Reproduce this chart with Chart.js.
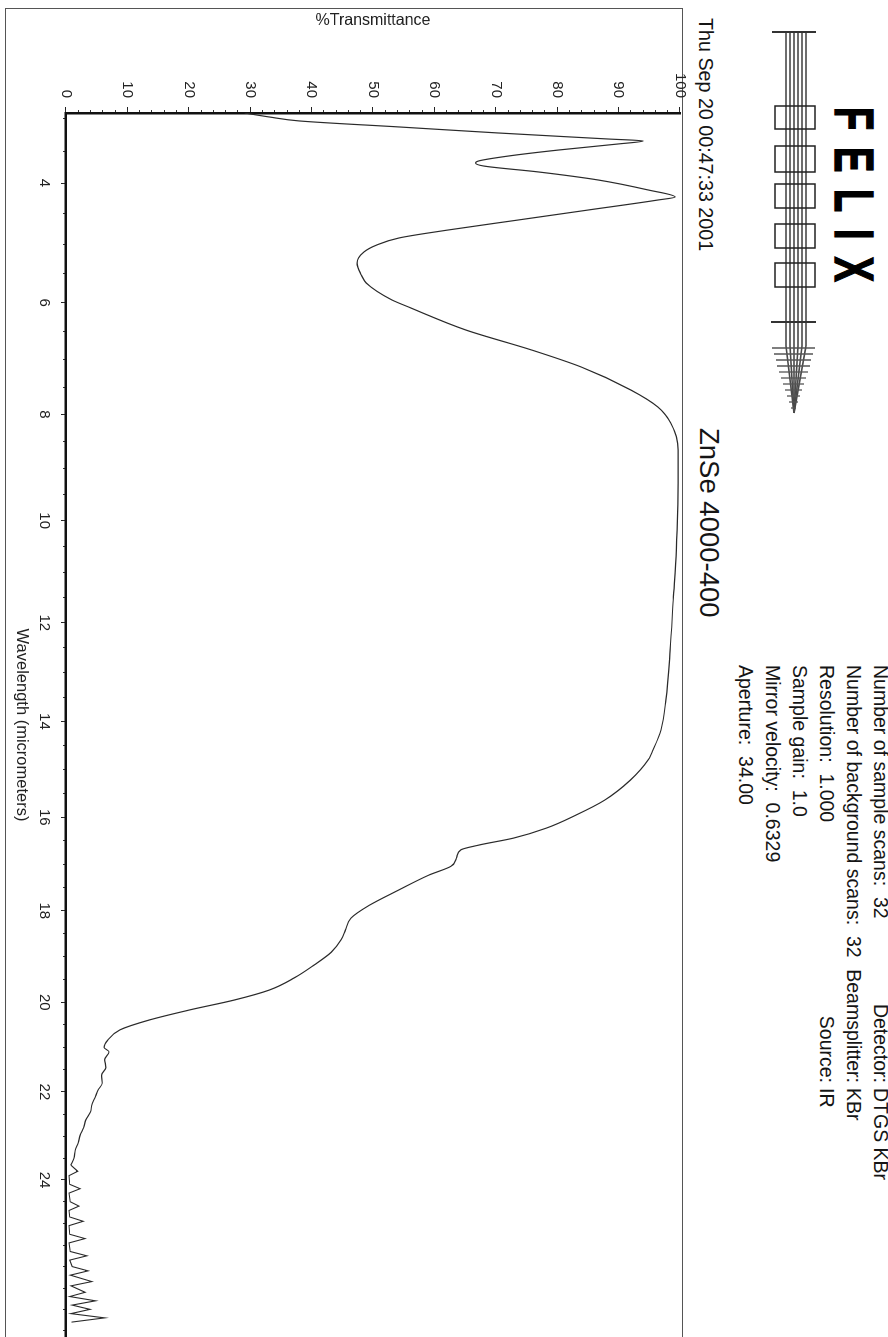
<!DOCTYPE html>
<html><head><meta charset="utf-8">
<script src="https://cdn.jsdelivr.net/npm/chart.js@4.4.0/dist/chart.umd.min.js"></script>
<style>
html,body{margin:0;padding:0;background:#fff;width:888px;height:1337px;overflow:hidden;}
#page{position:absolute;left:0;top:0;width:1337px;height:888px;transform-origin:0 0;transform:translate(888px,0) rotate(90deg);font-family:"Liberation Sans",Arial,sans-serif;color:#151515;background:#fff;}
#frame{position:absolute;left:8px;top:205px;width:1400px;height:676px;border-left:1px solid #555;border-top:1px solid #555;border-bottom:1px solid #555;}
#chartwrap{position:absolute;left:0;top:190px;width:1337px;height:698px;}
#logo{position:absolute;left:0;top:0;}
#felix{position:absolute;left:107px;top:6px;font-size:56px;line-height:1;font-weight:900;letter-spacing:24.6px;transform:scaleX(0.68);transform-origin:0 0;white-space:nowrap;color:#000;-webkit-text-stroke:1.4px #000;}
#date{position:absolute;left:18px;top:173px;font-size:19.7px;line-height:1;white-space:nowrap;}
#title{position:absolute;left:428px;top:165px;font-size:27.5px;line-height:1;white-space:nowrap;}
.info{position:absolute;font-size:19.5px;line-height:27px;white-space:pre;}
.lab{width:140px;text-align:right;left:943px;}
</style></head>
<body>
<div id="page">
  <div id="frame"></div>
  <svg id="logo" width="440" height="130" viewBox="0 0 440 130">
    <g stroke="#4a4a4a" stroke-width="1.6" fill="none">
      <line x1="32" y1="82" x2="346" y2="82"/><line x1="32" y1="86" x2="346" y2="86"/>
      <line x1="32" y1="90" x2="346" y2="90"/><line x1="32" y1="94" x2="346" y2="94"/>
      <line x1="32" y1="98" x2="346" y2="98"/><line x1="32" y1="102" x2="346" y2="102"/>
      <line x1="346" y1="82" x2="413" y2="94"/><line x1="346" y1="86" x2="413" y2="94"/>
      <line x1="346" y1="90" x2="413" y2="94"/><line x1="346" y1="98" x2="413" y2="94"/>
      <line x1="346" y1="102" x2="413" y2="94"/><line x1="346" y1="94" x2="413" y2="94"/>
    </g>
    <g stroke="#333" stroke-width="2">
      <line x1="32" y1="72" x2="32" y2="116"/><line x1="322" y1="72" x2="322" y2="117"/>
    </g>
    <g stroke="#555" stroke-width="1.3">
      <line x1="348" y1="73" x2="348" y2="116"/><line x1="354" y1="75" x2="354" y2="114"/>
      <line x1="360" y1="77" x2="360" y2="112"/><line x1="366" y1="78" x2="366" y2="111"/>
      <line x1="372" y1="80" x2="372" y2="109"/><line x1="378" y1="82" x2="378" y2="107"/>
      <line x1="384" y1="84" x2="384" y2="105"/><line x1="390" y1="86" x2="390" y2="103"/>
      <line x1="396" y1="88" x2="396" y2="101"/><line x1="402" y1="90" x2="402" y2="99"/>
      <line x1="408" y1="92" x2="408" y2="97"/>
    </g>
    <g stroke="#222" stroke-width="1.5" fill="none">
      <rect x="106" y="73" width="23" height="40"/><rect x="146" y="73" width="26" height="40"/>
      <rect x="184" y="73" width="24" height="40"/><rect x="224" y="73" width="24" height="40"/>
      <rect x="263" y="73" width="24" height="40"/>
    </g>
  </svg>
  <div id="felix">FELIX</div>
  <div id="date">Thu Sep 20 00:47:33 2001</div>
  <div id="title">ZnSe 4000-400</div>
  <div class="info" style="left:665px;top:-6px;">Number of sample scans:  32</div>
  <div class="info" style="left:665px;top:21px;">Number of background scans:  32</div>
  <div class="info" style="left:665px;top:48px;">Resolution:  1.000</div>
  <div class="info" style="left:665px;top:75px;">Sample gain:  1.0</div>
  <div class="info" style="left:665px;top:102px;">Mirror velocity:  0.6329</div>
  <div class="info" style="left:665px;top:129px;">Aperture:  34.00</div>
  <div class="info lab" style="top:-6px;">Detector:</div>
  <div class="info lab" style="top:21px;">Beamsplitter:</div>
  <div class="info lab" style="top:48px;">Source:</div>
  <div class="info" style="left:1088px;top:-6px;">DTGS KBr</div>
  <div class="info" style="left:1088px;top:21px;">KBr</div>
  <div class="info" style="left:1088px;top:48px;">IR</div>
  <div id="chartwrap"><canvas id="c" width="1337" height="698"></canvas></div>
</div>
<script>
// ---- data (wavelength in micrometers, %transmittance) ----
const wavelength = [2.912,2.972,3.032,3.123,3.216,3.308,3.338,3.385,3.479,3.572,3.650,3.682,3.729,3.823,3.952,4.111,4.225,4.274,4.436,4.600,4.765,4.899,5.016,5.134,5.320,5.523,5.661,5.954,6.076,6.478,6.832,7.137,7.554,7.864,8.159,8.660,9.282,10.567,11.549,12.548,13.562,14.177,14.590,14.80,15.22,15.64,15.95,16.23,16.44,16.59,16.69,16.86,17.04,17.23,17.55,17.88,18.16,18.42,18.63,18.90,19.18,19.46,19.73,19.95,20.17,20.39,20.61,20.84,21.00,21.10,21.28,21.45,21.62,21.80,21.96,22.10,22.30,22.45,22.64,22.80,22.98,23.15,23.32,23.50,23.66];
const transmittance = [29.1,33.1,38.0,54.2,70.5,88.3,94.0,89.9,80.2,72.1,67.2,66.7,68.0,76.9,86.7,94.8,99.2,96.4,85.1,73.7,62.3,54.2,50.6,48.5,47.4,48.1,48.9,53.1,55.8,65.1,75.8,83.9,92.0,96.4,98.5,99.7,99.7,99.4,98.9,98.4,97.7,96.9,95.6,94.8,91.9,87.7,83.1,78.2,72.9,67.2,64.3,63.6,62.7,59.1,54.2,49.4,46.4,45.5,44.8,43.2,40.4,37.2,33.1,27.4,20.1,13.6,8.8,6.8,6.2,7.0,6.3,6.5,5.8,5.9,5.2,4.8,4.2,4.0,3.2,2.9,2.3,2.0,1.5,1.3,0.8];
// noisy far-infrared tail (drawn with straight segments)
const tailWavelength = [23.66,23.8,23.9,24.1,24.2,24.3,24.5,24.6,24.7,24.85,24.95,25.05,25.25,25.35,25.45,25.65,25.75,25.85,26.0,26.1,26.2,26.35,26.45,26.6,26.7,26.8,26.9,27.0,27.1,27.2,27.3];
const tailTransmittance = [0.8,1.9,0.5,0.6,2.3,0.5,0.7,2.1,0.5,0.6,2.8,0.5,0.6,3.1,0.5,0.7,3.4,0.6,1.0,3.6,0.7,4.2,0.8,3.1,0.6,4.8,1.0,3.9,0.8,6.3,0.9];

// ---- axes ----
const waveTicks = [4,6,8,10,12,14,16,18,20,22,24];
const waveMinorTicks = [3,3.5,4,4.5,5,5.5,6,6.5,7,7.5,8,8.5,9,9.5,10,10.5,11,11.5,12,12.5,13,13.5,14,14.5,15,15.5,16,16.5,17,17.5,18,18.5,19,19.5,20,20.5,21,21.5,22,22.5,23,23.5,24,24.5,25,25.5,26,26.5,27,27.5];
const transTicks = [0,10,20,30,40,50,60,70,80,90,100];
const transMinorTicks = [0,2,4,6,8,10,12,14,16,18,20,22,24,26,28,30,32,34,36,38,40,42,44,46,48,50,52,54,56,58,60,62,64,66,68,70,72,74,76,78,80,82,84,86,88,90,92,94,96,98,100];
const waveMin = 2.912, waveMax = 27.65;

// the printout's wavelength axis is slightly non-linear: a power scale reproduces it
class PowScale extends Chart.LinearScale {
  configure() {
    super.configure();
    const p = this.options.exponent || 0.8;
    this._p = p;
    this._fs = Math.pow(this.min, p);
    this._fe = Math.pow(this.max, p);
  }
  getPixelForValue(v) {
    if (v === null || v === undefined || isNaN(v)) return NaN;
    return this.getPixelForDecimal((Math.pow(v, this._p) - this._fs) / (this._fe - this._fs));
  }
  getValueForPixel(px) {
    const d = this.getDecimalForPixel(px);
    return Math.pow(this._fs + d * (this._fe - this._fs), 1 / this._p);
  }
}
PowScale.id = 'pow';
PowScale.defaults = Chart.LinearScale.defaults;
Chart.register(PowScale);

const FONT = '"Liberation Sans", Arial, sans-serif';
const mainPts = wavelength.map((w, i) => ({x: w, y: transmittance[i]}));
const tailPts = tailWavelength.map((w, i) => ({x: w, y: tailTransmittance[i]}));

new Chart(document.getElementById('c'), {
  type: 'line',
  data: { datasets: [
    { data: mainPts, xAxisID: 'x', yAxisID: 'y', borderColor: '#2a2a2a', borderWidth: 1.2, pointRadius: 0, cubicInterpolationMode: 'monotone', fill: false },
    { data: tailPts, xAxisID: 'x', yAxisID: 'y', borderColor: '#2a2a2a', borderWidth: 1.1, pointRadius: 0, tension: 0, fill: false }
  ]},
  options: {
    responsive: false, animation: false, devicePixelRatio: 1,
    layout: { padding: { top: 16, right: 0, left: 0, bottom: 0 } },
    plugins: { legend: {display: false}, tooltip: {enabled: false} },
    scales: {
      x: {
        type: 'pow', exponent: 0.8, position: 'bottom', min: waveMin, max: waveMax, bounds: 'data', weight: 1,
        afterBuildTicks: s => { s.ticks = waveTicks.map(v => ({value: v})); },
        afterFit: s => { s.height = 66; },
        border: {display: true, color: '#111', width: 2.5},
        grid: {drawOnChartArea: false, drawTicks: true, tickLength: 5, tickColor: '#222', tickWidth: 1},
        ticks: {color: '#222', font: {family: FONT, size: 15}, padding: 8, maxRotation: 0, minRotation: 0, autoSkip: false, callback: v => String(v)},
        title: {display: true, text: 'Wavelength (micrometers)', color: '#222', font: {family: FONT, size: 16.5}, padding: {top: 0, bottom: 12}}
      },
      xMinor: {
        type: 'pow', exponent: 0.8, position: 'bottom', min: waveMin, max: waveMax, bounds: 'data', weight: 0,
        afterBuildTicks: s => { s.ticks = waveMinorTicks.map(v => ({value: v})); },
        afterFit: s => { s.height = 0; },
        border: {display: false},
        grid: {drawOnChartArea: false, drawTicks: true, tickLength: 3, tickColor: '#333', tickWidth: 1},
        ticks: {display: false}
      },
      y: {
        type: 'linear', position: 'left', min: 0, max: 100, bounds: 'data', weight: 1,
        afterBuildTicks: s => { s.ticks = transTicks.map(v => ({value: v})); },
        afterFit: s => { s.width = 113; },
        border: {display: true, color: '#111', width: 2.5},
        grid: {drawOnChartArea: false, drawTicks: true, tickLength: 6, tickColor: '#222', tickWidth: 1},
        ticks: {color: '#222', font: {family: FONT, size: 15}, padding: 9, autoSkip: false, callback: v => String(v)},
        title: {display: true, text: '%Transmittance', color: '#222', font: {family: FONT, size: 16}, padding: {top: 11, bottom: 0}}
      },
      yMinor: {
        type: 'linear', position: 'left', min: 0, max: 100, bounds: 'data', weight: 0,
        afterBuildTicks: s => { s.ticks = transMinorTicks.map(v => ({value: v})); },
        afterFit: s => { s.width = 0; },
        border: {display: false},
        grid: {drawOnChartArea: false, drawTicks: true, tickLength: 3, tickColor: '#333', tickWidth: 1},
        ticks: {display: false}
      }
    }
  }
});
</script>
</body></html>
